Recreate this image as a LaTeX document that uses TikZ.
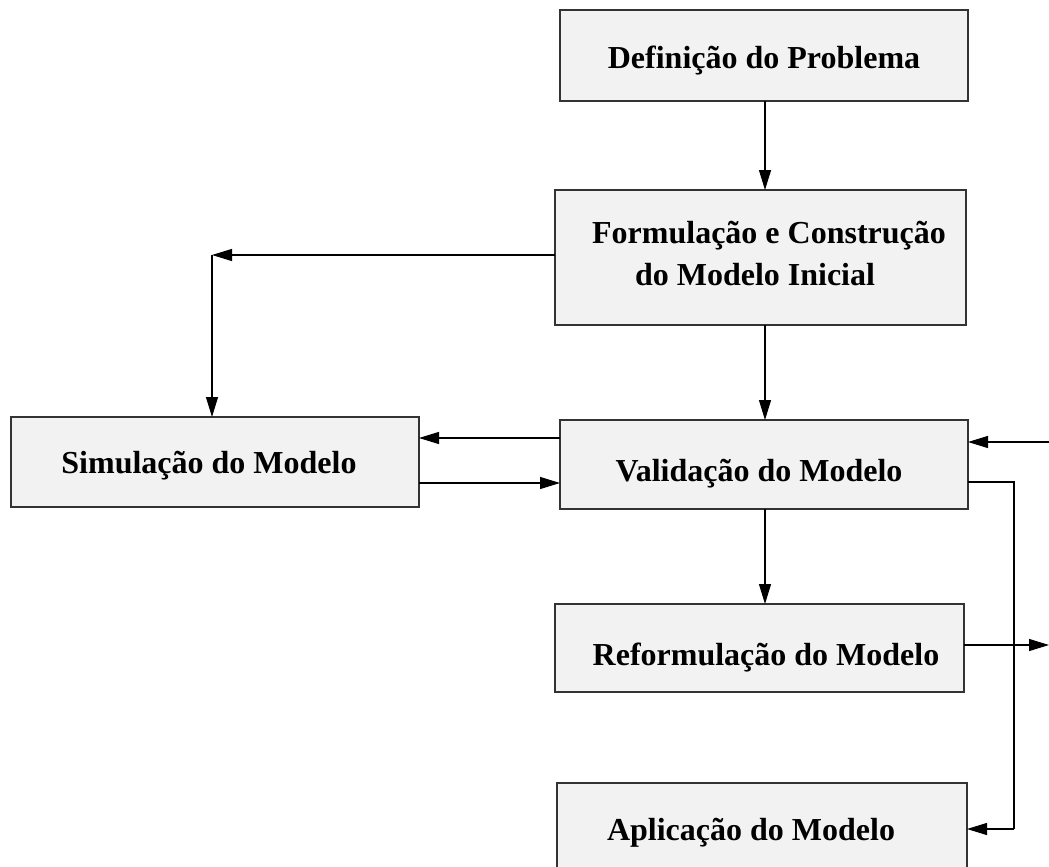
\documentclass[tikz,border=0pt]{standalone}
\usepackage{fontspec}
\setmainfont{Liberation Serif}
\usetikzlibrary{arrows.meta}
\definecolor{boxfill}{HTML}{F2F2F2}
\definecolor{boxline}{HTML}{333333}
\tikzset{
  box/.style={rectangle, draw=boxline, fill=boxfill, line width=1.5pt, inner sep=0pt, outer sep=0pt},
  lbl/.style={inner sep=0pt, anchor=base, font=\fontsize{32}{38}\selectfont\bfseries},
  arr/.style={line width=1.2pt, -{Triangle[length=20pt,width=12pt]}},
  ln/.style={line width=1.2pt}
}
\begin{document}
\begin{tikzpicture}[x=1pt,y=-1pt]
\useasboundingbox (0,0) rectangle (1049,867);
% boxes
\node[box, minimum width=408pt, minimum height=91pt] (def) at (764,55.5) {};
\node[box, minimum width=411pt, minimum height=135pt] (form) at (760.5,257.5) {};
\node[box, minimum width=408pt, minimum height=90pt] (sim) at (215,462) {};
\node[box, minimum width=408pt, minimum height=89pt] (val) at (764,464.5) {};
\node[box, minimum width=409pt, minimum height=88pt] (ref) at (759.5,648) {};
\node[box, minimum width=410pt, minimum height=110pt] (apl) at (762,838) {};
% labels
\node[lbl] (tdef) at (764,68) {Definição do Problema};
\node[lbl] (tform1) at (769,243) {Formulação e Construção};
\node[lbl] (tform2) at (755,285) {do Modelo Inicial};
\node[lbl] (tsim) at (209,473) {Simulação do Modelo};
\node[lbl] (tval) at (759,481) {Validação do Modelo};
\node[lbl] (tref) at (766,665) {Reformulação do Modelo};
\node[lbl] (tapl) at (751,840) {Aplicação do Modelo};
% helper coordinates
\coordinate (cx) at (765,0);
\coordinate (corner) at (212,255);
\coordinate (rin) at (1049,442);
\coordinate (rout) at (1049,645);
\coordinate (bend1) at (1014,482);
\coordinate (bend2) at (1014,829);
\coordinate (ya) at (0,438);
\coordinate (yb) at (0,483);
\coordinate (yc) at (0,645);
% connectors
\draw[arr] (def.south -| cx) -- (form.north -| cx);
\draw[arr] (form.west |- corner) -- (corner);
\draw[arr] (corner) -- (sim.north -| corner);
\draw[arr] (form.south -| cx) -- (val.north -| cx);
\draw[arr] (val.west |- ya) -- (sim.east |- ya);
\draw[arr] (sim.east |- yb) -- (val.west |- yb);
\draw[arr] (val.south -| cx) -- (ref.north -| cx);
\draw[arr] (ref.east |- yc) -- (rout);
\draw[arr] (rin) -- (val.east |- rin);
\draw[ln] (val.east |- bend1) -- (bend1) -- (bend2);
\draw[arr] (bend2) -- (apl.east |- bend2);
\end{tikzpicture}
\end{document}
